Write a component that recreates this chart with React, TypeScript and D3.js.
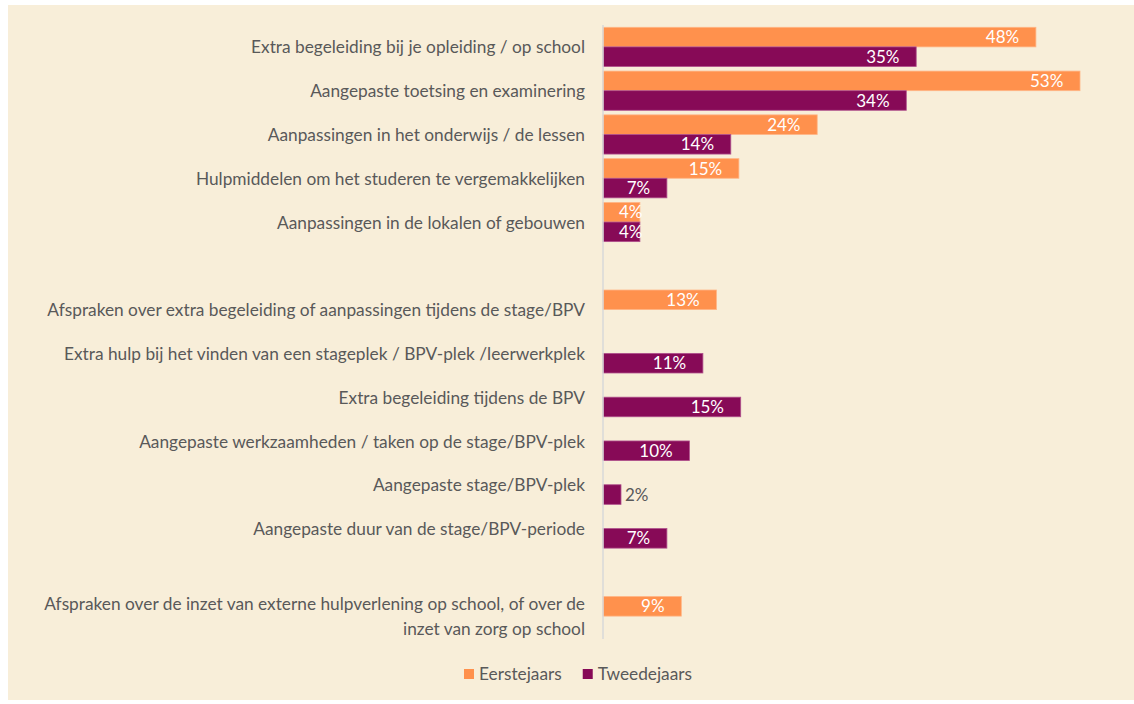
import React, { useEffect, useRef } from "react";
import * as d3 from "d3";

const categories: string[] = [
  "Extra begeleiding bij je opleiding / op school",
  "Aangepaste toetsing en examinering",
  "Aanpassingen in het onderwijs / de lessen",
  "Hulpmiddelen om het studeren te vergemakkelijken",
  "Aanpassingen in de lokalen of gebouwen",
  "",
  "Afspraken over extra begeleiding of aanpassingen tijdens de stage/BPV",
  "Extra hulp bij het vinden van een stageplek / BPV-plek /leerwerkplek",
  "Extra begeleiding tijdens de BPV",
  "Aangepaste werkzaamheden / taken op de stage/BPV-plek",
  "Aangepaste stage/BPV-plek",
  "Aangepaste duur van de stage/BPV-periode",
  "",
  "Afspraken over de inzet van externe hulpverlening op school, of over de|inzet van zorg op school",
];
const eerstejaars: (number | null)[] = [48.1, 53, 23.8, 15.1, 4.1, null, 12.6, null, null, null, null, null, null, 8.7];
const tweedejaars: (number | null)[] = [34.8, 33.7, 14.2, 7.1, 4.1, null, null, 11.1, 15.3, 9.6, 2.0, 7.1, null, null];
const seriesNames = ["Eerstejaars", "Tweedejaars"];
const seriesColors = ["#FF914D", "#870A57"];
const seriesStroke = ["#FFB585", "#B0508C"];

const W = 1134;
const H = 704;
const FONT = "Lato, 'Noto Sans', sans-serif";
const TEXT = "#595959";

export default function App() {
  const ref = useRef<SVGSVGElement>(null);

  useEffect(() => {
    const svg = d3.select(ref.current);
    svg.selectAll("*").remove();

    svg.append("rect").attr("x", 8).attr("y", 5).attr("width", W - 8).attr("height", 695).attr("fill", "#F8EED9");

    const x = d3.scaleLinear().domain([0, 53]).range([603, 1080]);
    const y = d3
      .scaleBand<number>()
      .domain(categories.map((_, i) => i))
      .range([25, 638])
      .paddingInner(0.105)
      .paddingOuter(0.0525);
    const sub = d3.scaleBand<number>().domain([0, 1]).range([0, y.bandwidth()]);

    // category labels
    const lab = svg.append("g").attr("font-family", FONT).attr("font-size", 17.3).attr("fill", TEXT);
    categories.forEach((c, i) => {
      if (!c) return;
      const lines = c.split("|");
      const cy = (y(i) as number) + y.bandwidth() / 2;
      lines.forEach((ln, k) => {
        lab
          .append("text")
          .attr("x", 585)
          .attr("y", cy + (k - (lines.length - 1) / 2) * 25 + 0.5)
          .attr("dy", "0.35em")
          .attr("text-anchor", "end")
          .text(ln);
      });
    });

    const series = [eerstejaars, tweedejaars];
    const barsG = svg.append("g");
    const valG = svg.append("g").attr("font-family", FONT).attr("font-size", 17);
    const fmt = (v: number) => `${Math.round(v)}%`;
    series.forEach((vals, s) => {
      vals.forEach((v, i) => {
        if (v == null) return;
        const by = (y(i) as number) + (sub(s) as number);
        const bh = sub.bandwidth();
        barsG
          .append("rect")
          .attr("x", x(0))
          .attr("y", by)
          .attr("width", x(v) - x(0))
          .attr("height", bh)
          .attr("fill", seriesColors[s])
          .attr("stroke", seriesStroke[s])
          .attr("stroke-width", 0.8);
        const t = valG
          .append("text")
          .attr("y", by + bh / 2)
          .attr("dy", "0.36em")
          .text(fmt(v));
        const tw = (t.node() as SVGTextElement).getComputedTextLength();
        const bw = x(v) - x(0);
        if (bw < tw) {
          t.attr("x", x(v) + 4).attr("text-anchor", "start").attr("fill", TEXT);
        } else {
          const end = Math.max(x(v) - 16.7, x(0) + 16 + tw);
          t.attr("x", end).attr("text-anchor", "end").attr("fill", "#FFFFFF");
        }
      });
    });

    // axis line
    svg
      .append("line")
      .attr("x1", x(0))
      .attr("x2", x(0))
      .attr("y1", 25)
      .attr("y2", 639)
      .attr("stroke", "#D9D9D9")
      .attr("stroke-width", 1.5);

    // legend
    const leg = svg.append("g").attr("font-family", FONT).attr("font-size", 17.3).attr("fill", TEXT);
    let lx = 464;
    seriesNames.forEach((n, s) => {
      leg.append("rect").attr("x", lx).attr("y", 669).attr("width", 10).attr("height", 10).attr("fill", seriesColors[s]);
      const t = leg.append("text").attr("x", lx + 15).attr("y", 674).attr("dy", "0.35em").text(n);
      const tw = (t.node() as SVGTextElement).getComputedTextLength();
      lx = lx + 15 + tw + 21;
    });
  }, []);

  return (
    <svg
      ref={ref}
      width={W}
      height={H}
      style={{ position: "absolute", left: 0, top: 0, display: "block" }}
    />
  );
}
